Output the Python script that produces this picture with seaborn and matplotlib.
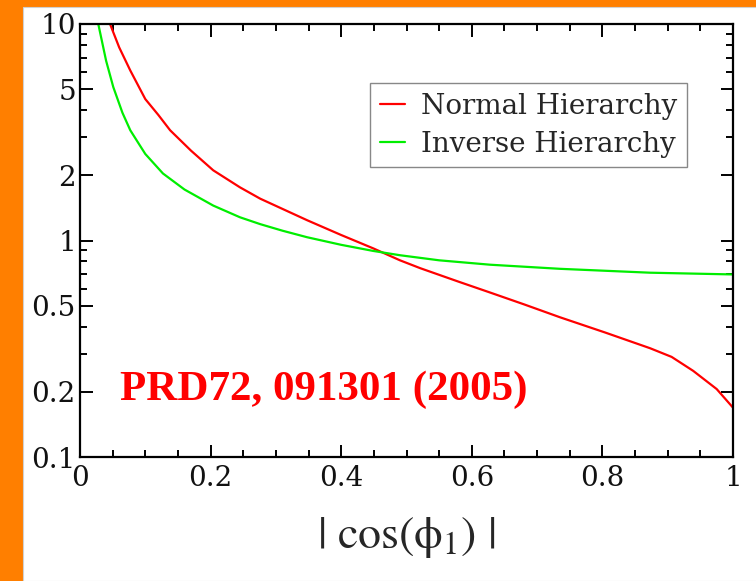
import numpy as np
import pandas as pd
import seaborn as sns
import matplotlib.pyplot as plt
from matplotlib.patches import Rectangle
from matplotlib.ticker import FixedLocator, FixedFormatter, MultipleLocator

# values (log y axis)
normal_x = [0.046, 0.06, 0.077, 0.10, 0.12, 0.138, 0.17, 0.204, 0.245, 0.276, 0.348, 0.40,
            0.449, 0.49, 0.521, 0.58, 0.628, 0.68, 0.735, 0.804, 0.873, 0.906, 0.939, 0.975, 1.0]
normal_y = [10, 7.8, 6.1, 4.5, 3.8, 3.23, 2.6, 2.11, 1.76, 1.56, 1.24, 1.06,
            0.92, 0.81, 0.745, 0.645, 0.575, 0.507, 0.442, 0.376, 0.318, 0.29, 0.250, 0.206, 0.169]
inverse_x = [0.028, 0.04, 0.051, 0.065, 0.077, 0.09, 0.10, 0.127, 0.16, 0.204, 0.245, 0.276,
             0.31, 0.348, 0.40, 0.449, 0.49, 0.55, 0.628, 0.735, 0.873, 1.0]
inverse_y = [10, 6.76, 5.11, 3.89, 3.23, 2.8, 2.51, 2.04, 1.72, 1.45, 1.28, 1.19,
             1.11, 1.035, 0.955, 0.895, 0.855, 0.81, 0.773, 0.74, 0.71, 0.697]
series_names = ["Normal Hierarchy", "Inverse Hierarchy"]
y_ticks = [0.1, 0.2, 0.5, 1, 2, 5, 10]
y_tick_labels = ["0.1", "0.2", "0.5", "1", "2", "5", "10"]
x_ticks = [0, 0.2, 0.4, 0.6, 0.8, 1]
x_tick_labels = ["0", "0.2", "0.4", "0.6", "0.8", "1"]

df = pd.concat([
    pd.DataFrame({"x": normal_x, "y": normal_y, "series": series_names[0]}),
    pd.DataFrame({"x": inverse_x, "y": inverse_y, "series": series_names[1]}),
])

sns.set_theme(style="ticks")
plt.rcParams["font.family"] = ["DejaVu Serif"]
plt.rcParams["mathtext.fontset"] = "stix"

fig = plt.figure(figsize=(7.56, 5.81), dpi=100, facecolor="#FF7F00")
# white page over the orange frame
page = Rectangle((23 / 756, 0), 1, 1 - 7 / 581, transform=fig.transFigure,
                 facecolor="white", edgecolor="#d0d0d0", linewidth=0.8, zorder=-10)
fig.add_artist(page)
ax = fig.add_axes([80 / 756, 1 - 457 / 581, 653 / 756, 433 / 581])
ax.set_facecolor("white")

sns.lineplot(data=df, x="x", y="y", hue="series", palette=["#FF0000", "#00EE00"],
             linewidth=1.6, sort=True, ax=ax)

ax.set_yscale("log")
ax.set_xlim(0, 1)
ax.set_ylim(0.1, 10)
ax.yaxis.set_major_locator(FixedLocator(y_ticks))
ax.yaxis.set_major_formatter(FixedFormatter(y_tick_labels))
minor = [v * d for d in (0.1, 1) for v in (3, 4, 6, 7, 8, 9)]
ax.yaxis.set_minor_locator(FixedLocator(minor))
ax.yaxis.set_minor_formatter(FixedFormatter([""] * len(minor)))
ax.xaxis.set_major_locator(FixedLocator(x_ticks))
ax.xaxis.set_major_formatter(FixedFormatter(x_tick_labels))
ax.xaxis.set_minor_locator(MultipleLocator(0.05))

for s in ax.spines.values():
    s.set_visible(True)
    s.set_linewidth(1.6)
    s.set_color("black")
ax.tick_params(which="both", direction="in", top=True, right=True, color="black", width=1.4)
ax.tick_params(which="major", length=9, labelsize=20, labelcolor="#111111")
ax.tick_params(axis="x", which="major", pad=6)
ax.tick_params(axis="y", which="major", pad=3)
ax.tick_params(which="minor", length=5)

ax.set_xlabel(r"$|\ \mathrm{cos}(\mathrm{\phi}_1)\ |$", fontsize=33, labelpad=16)
ax.set_ylabel("")

ax.legend(loc="upper right", bbox_to_anchor=(0.93, 0.864), fontsize=20, frameon=True,
          fancybox=False, edgecolor="#888888", framealpha=1, handlelength=0.9,
          handletextpad=0.6, borderpad=0.35, labelspacing=0.4, borderaxespad=0)

ax.text(0.061, 0.132, "PRD72, 091301 (2005)", transform=ax.transAxes, color="#FF0000",
        fontsize=31, fontweight="bold", va="baseline", ha="left",
        family=["Liberation Serif", "DejaVu Serif"])

fig.savefig("out.png", dpi=100, facecolor=fig.get_facecolor())
